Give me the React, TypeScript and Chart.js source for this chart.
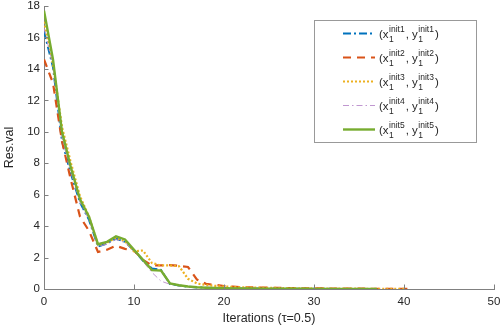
import React, { useEffect, useRef } from "react";
import { Chart, registerables } from "chart.js";

Chart.register(...registerables);

// ---- data (Res.val per iteration, iteration = array index) ----
const init1 = [16.4, 14.1, 9.4, 7.3, 5.5, 4.4, 2.7, 2.9, 3.2, 3.0, 2.45, 1.8, 1.3, 1.22, 0.32, 0.22, 0.15, 0.1, 0.08, 0.06, 0.05, 0.04, 0.035, 0.03, 0.025, 0.02, 0.018, 0.016, 0.014, 0.012, 0.01, 0.009, 0.008, 0.007, 0.006, 0.005, 0.004, 0.003];
const init2 = [14.6, 13.1, 9.4, 6.9, 4.6, 3.7, 2.35, 2.5, 2.75, 2.55, 2.45, 1.85, 1.5, 1.5, 1.52, 1.48, 1.4, 0.6, 0.33, 0.26, 0.19, 0.15, 0.12, 0.1, 0.09, 0.08, 0.07, 0.06, 0.05, 0.045, 0.04, 0.035, 0.03, 0.027, 0.024, 0.021, 0.018, 0.015, 0.012, 0.01, 0.008, 0.006];
const init3 = [17.0, 14.3, 10.3, 8.0, 5.9, 4.6, 2.8, 2.95, 3.25, 3.05, 2.4, 2.45, 1.65, 1.5, 1.5, 1.45, 0.65, 0.35, 0.25, 0.2, 0.16, 0.13, 0.11, 0.095, 0.085, 0.075, 0.065, 0.055, 0.05, 0.045, 0.04, 0.035, 0.03, 0.026, 0.022, 0.019, 0.016, 0.013, 0.01, 0.008, 0.006];
const init4 = [16.6, 14.2, 9.6, 7.4, 5.5, 4.4, 2.7, 2.85, 3.15, 2.95, 2.45, 1.75, 1.05, 0.5, 0.3, 0.2, 0.14, 0.1, 0.08, 0.06, 0.05, 0.04, 0.035, 0.03, 0.025, 0.02, 0.018, 0.016, 0.014, 0.012, 0.01, 0.009, 0.008, 0.007, 0.006, 0.005, 0.004];
const init5 = [17.7, 14.6, 10.0, 7.7, 5.7, 4.6, 2.85, 3.0, 3.35, 3.15, 2.5, 1.85, 1.2, 1.18, 0.35, 0.24, 0.16, 0.11, 0.08, 0.06, 0.05, 0.04, 0.035, 0.03, 0.025, 0.02, 0.018, 0.016, 0.014, 0.012, 0.01, 0.009, 0.008, 0.007, 0.006, 0.005, 0.004, 0.003];

const seriesTags = ["init1", "init2", "init3", "init4", "init5"];
const seriesValues = [init1, init2, init3, init4, init5];
const seriesColors = ["#0072BD", "#D95319", "#EDB120", "#B98BCB", "#77AC30"];
const seriesDash: number[][] = [[8, 3, 2, 3], [8, 6], [2, 2], [6, 3, 1.5, 3], []];
const seriesWidth = [2, 2.2, 2.2, 0.9, 2.4];

const xTicks = [0, 10, 20, 30, 40, 50];
const yTicks = [0, 2, 4, 6, 8, 10, 12, 14, 16, 18];

const FONT = '"Liberation Sans", Arial, Helvetica, sans-serif';

const innerTicksPlugin = {
  id: "innerTicks",
  afterDraw(chart: any) {
    const { ctx, scales } = chart;
    const xs = scales.x;
    const ys = scales.y;
    ctx.save();
    ctx.strokeStyle = "#808080";
    ctx.lineWidth = 1;
    ctx.beginPath();
    xTicks.forEach((v) => {
      const px = Math.round(xs.getPixelForValue(v)) + 0.5;
      ctx.moveTo(px, ys.bottom);
      ctx.lineTo(px, ys.bottom - 4.5);
    });
    yTicks.forEach((v) => {
      const py = Math.round(ys.getPixelForValue(v)) + 0.5;
      ctx.moveTo(xs.left, py);
      ctx.lineTo(xs.left + 4.5, py);
    });
    ctx.stroke();
    ctx.restore();
  },
};

const legendPlugin = {
  id: "matlabLegend",
  afterDraw(chart: any) {
    const ctx = chart.ctx;
    ctx.save();
    const bx = 314.5, by = 20.5, bw = 162, bh = 122;
    ctx.fillStyle = "#ffffff";
    ctx.fillRect(bx, by, bw, bh);
    ctx.strokeStyle = "#999999";
    ctx.lineWidth = 1;
    ctx.setLineDash([]);
    ctx.strokeRect(bx, by, bw, bh);
    const big = `11.5px ${FONT}`;
    const small = `8.5px ${FONT}`;
    chart.data.datasets.forEach((ds: any, i: number) => {
      const y = 33.5 + i * 24;
      ctx.strokeStyle = ds.borderColor;
      ctx.lineWidth = ds.borderWidth;
      ctx.setLineDash(ds.borderDash || []);
      ctx.beginPath();
      ctx.moveTo(343, y);
      ctx.lineTo(375, y);
      ctx.stroke();
      ctx.setLineDash([]);
      const base = y + 4;
      let x = 379;
      ctx.fillStyle = "#262626";
      ctx.textAlign = "left";
      ctx.textBaseline = "alphabetic";
      const tag = seriesTags[i];
      const drawMain = (t: string) => {
        ctx.font = big;
        ctx.fillText(t, x, base);
        x += ctx.measureText(t).width;
      };
      const drawSupSub = () => {
        ctx.font = small;
        ctx.fillText(tag, x + 0.5, base - 6);
        ctx.fillText("1", x + 0.5, base + 4);
        x += ctx.measureText(tag).width + 1.5;
      };
      drawMain("(x");
      drawSupSub();
      drawMain(", y");
      drawSupSub();
      drawMain(")");
    });
    ctx.restore();
  },
};

export default function App() {
  const canvasRef = useRef<HTMLCanvasElement | null>(null);

  useEffect(() => {
    if (!canvasRef.current) return;
    const datasets = seriesValues.map((vals, i) => ({
      label: `(x_1^{${seriesTags[i]}}, y_1^{${seriesTags[i]}})`,
      data: vals.map((v, k) => ({ x: k, y: v })),
      borderColor: seriesColors[i],
      backgroundColor: seriesColors[i],
      borderWidth: seriesWidth[i],
      borderDash: seriesDash[i],
      pointRadius: 0,
      tension: 0,
      fill: false,
      order: seriesValues.length - 1 - i,
    }));
    const chart = new Chart(canvasRef.current, {
      type: "line",
      data: { datasets },
      options: {
        animation: false,
        responsive: false,
        devicePixelRatio: 1,
        layout: { padding: { top: 6, right: 9, left: 2, bottom: 0 } },
        plugins: { legend: { display: false }, tooltip: { enabled: false } },
        scales: {
          x: {
            type: "linear",
            min: 0,
            max: 50,
            afterBuildTicks: (s: any) => {
              s.ticks = xTicks.map((v) => ({ value: v }));
            },
            afterFit: (s: any) => {
              s.height = 38;
              s.paddingLeft = 0;
              s.paddingRight = 0;
            },
            ticks: { color: "#262626", font: { family: FONT, size: 11.5 }, padding: 6, maxRotation: 0 },
            grid: { display: false, drawTicks: false },
            border: { display: true, color: "#808080", width: 1 },
            title: {
              display: true,
              text: "Iterations (τ=0.5)",
              color: "#262626",
              font: { family: FONT, size: 12.5 },
              padding: { top: 0, bottom: 1 },
            },
          },
          y: {
            type: "linear",
            min: 0,
            max: 18,
            afterBuildTicks: (s: any) => {
              s.ticks = yTicks.map((v) => ({ value: v }));
            },
            afterFit: (s: any) => {
              s.width = 42;
              s.paddingTop = 0;
              s.paddingBottom = 0;
            },
            ticks: { color: "#262626", font: { family: FONT, size: 11.5 }, padding: 4 },
            grid: { display: false, drawTicks: false },
            border: { display: true, color: "#808080", width: 1 },
            title: {
              display: true,
              text: "Res.val",
              color: "#262626",
              font: { family: FONT, size: 12.5 },
              padding: { top: 0, bottom: 0 },
            },
          },
        },
      },
      plugins: [innerTicksPlugin, legendPlugin],
    } as any);
    return () => chart.destroy();
  }, []);

  return (
    <div style={{ position: "fixed", left: 0, top: 0, width: 503, height: 327, background: "#fff" }}>
      <canvas ref={canvasRef} width={503} height={327} style={{ width: 503, height: 327, display: "block" }} />
    </div>
  );
}
